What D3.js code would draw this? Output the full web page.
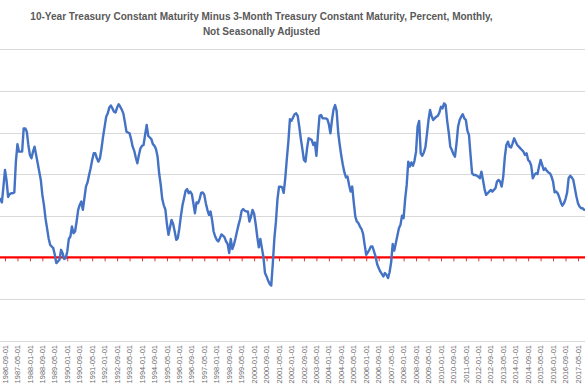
<!DOCTYPE html>
<html><head><meta charset="utf-8">
<script src="https://cdn.jsdelivr.net/npm/d3@7"></script>
<style>html,body{margin:0;padding:0;background:#fff;overflow:hidden}</style>
</head><body>
<svg id="c" width="585" height="390"></svg>
<script>
// ---- data ----
const titleLines = [
  "10-Year Treasury Constant Maturity Minus 3-Month Treasury Constant Maturity, Percent, Monthly,",
  "Not Seasonally Adjusted"
];
const firstYear = 1986;
const spread = [
  1.90,1.70,1.30,1.20,1.40,1.40,1.32,1.70,2.10,1.85,1.45,1.52, // 1986
  1.54,1.54,1.56,2.30,2.72,2.54,2.54,2.54,3.10,3.10,3.02,2.70, // 1987
  2.46,2.38,2.54,2.66,2.46,2.26,2.06,1.86,1.50,1.26,0.94,0.70, // 1988
  0.46,0.30,0.26,0.22,0.06,-0.14,-0.10,-0.06,0.18,0.10,-0.04,-0.02, // 1989
  0.14,0.44,0.50,0.74,0.58,0.62,0.86,1.14,1.26,1.34,1.14,1.42, // 1990
  1.70,1.80,1.98,2.14,2.34,2.50,2.50,2.38,2.30,2.38,2.62,2.90, // 1991
  3.14,3.38,3.46,3.60,3.65,3.58,3.50,3.48,3.60,3.68,3.62,3.55, // 1992
  3.46,3.25,3.02,3.00,2.98,2.84,2.66,2.56,2.40,2.26,2.46,2.62, // 1993
  2.68,2.70,2.95,3.18,2.92,2.88,2.84,2.72,2.68,2.60,2.42,2.02, // 1994
  1.75,1.40,1.25,1.15,0.80,0.54,0.72,0.90,0.80,0.62,0.42,0.46, // 1995
  0.70,1.00,1.25,1.42,1.60,1.64,1.54,1.58,1.52,1.30,1.06,1.32, // 1996
  1.30,1.40,1.55,1.56,1.50,1.30,1.14,1.02,1.10,0.90,0.62,0.50, // 1997
  0.42,0.38,0.46,0.55,0.52,0.48,0.38,0.32,0.10,0.44,0.20,0.30, // 1998
  0.45,0.62,0.78,0.92,1.12,1.16,1.12,1.10,1.10,0.86,0.98,1.14, // 1999
  1.05,0.80,0.50,0.24,0.44,0.22,0.00,-0.38,-0.46,-0.56,-0.64,-0.68, // 2000
  -0.15,0.45,0.85,1.40,1.70,1.70,1.68,1.55,1.90,2.36,2.78,3.32, // 2001
  3.28,3.36,3.44,3.46,3.40,3.14,2.85,2.60,2.34,2.30,2.62,2.86, // 2002
  2.84,2.82,2.70,2.76,2.44,2.95,3.40,3.42,3.34,3.34,3.34,3.32, // 2003
  3.20,2.98,3.30,3.55,3.66,3.52,3.00,2.70,2.44,2.22,2.04,1.92, // 2004
  1.94,1.74,1.58,1.70,1.32,0.98,0.86,0.82,0.74,0.68,0.56,0.30, // 2005
  0.06,0.12,0.18,0.26,0.26,0.14,0.02,-0.16,-0.26,-0.34,-0.40,-0.46, // 2006
  -0.38,-0.42,-0.50,-0.36,-0.12,0.32,0.16,0.34,0.52,0.70,0.78,1.00, // 2007
  0.94,1.40,1.74,2.30,2.18,2.28,2.20,2.32,2.54,3.14,3.28,2.50, // 2008
  2.44,2.52,2.64,2.96,3.30,3.54,3.40,3.30,3.34,3.38,3.40,3.48, // 2009
  3.62,3.58,3.70,3.66,3.28,3.00,2.66,2.58,2.48,2.42,2.74,3.14, // 2010
  3.30,3.38,3.44,3.34,3.30,3.04,2.94,2.46,2.02,1.98,1.98,1.96, // 2011
  1.94,1.90,2.06,1.86,1.64,1.50,1.54,1.58,1.62,1.58,1.62,1.66, // 2012
  1.82,1.86,1.82,1.70,1.94,2.40,2.70,2.78,2.66,2.64,2.74,2.86, // 2013
  2.78,2.70,2.66,2.62,2.58,2.54,2.46,2.50,2.34,2.30,2.20,1.90, // 2014
  1.98,2.02,2.00,2.18,2.34,2.22,2.10,2.14,2.08,2.04,2.02,1.94, // 2015
  1.82,1.56,1.58,1.54,1.44,1.32,1.24,1.30,1.40,1.55,1.90,1.96, // 2016
  1.92,1.86,1.66,1.46,1.30,1.22,1.18,1.18,1.14,1.14            // 2017
];
const months = spread.map((_, k) => {
  const yr = firstYear + Math.floor(k / 12), mo = (k % 12) + 1;
  return yr + "-" + String(mo).padStart(2, "0") + "-01";
});
const zeroSeries = months.map(() => 0);
const yTicks = [-2, -1, 0, 1, 2, 3, 4, 5];
const labelStep = 8;

// ---- layout ----
const W = 585, H = 390;
const svg = d3.select("#c");
const x = d3.scalePoint().domain(months).range([-7.46, -7.46 + 1.557 * (months.length - 1)]);
const y = d3.scaleLinear().domain([-2, 5]).range([340.5, 49.3]);

// gridlines
svg.append("g").selectAll("line").data(yTicks).join("line")
  .attr("x1", 0).attr("x2", W)
  .attr("y1", d => Math.round(y(d)) + 0.5).attr("y2", d => Math.round(y(d)) + 0.5)
  .attr("stroke", "#d9d9d9").attr("stroke-width", 1);

const tickCats = months.filter((m, i) => i % labelStep === 0 && x(m) >= 0 && x(m) <= W);

// category axis crossing at zero (tick marks only)
const axis = d3.axisBottom(x).tickValues(tickCats).tickSize(4).tickFormat("");
const ag = svg.append("g").attr("transform", `translate(0,${y(0)})`).call(axis);
ag.select(".domain").remove();
ag.selectAll(".tick line").attr("stroke", "#d23a3a").attr("stroke-width", 1);

// labels at bottom
const lab = svg.append("g").selectAll("text").data(tickCats).join("text")
  .attr("transform", d => `translate(${x(d)},345) rotate(-90)`)
  .attr("text-anchor", "end")
  .attr("dy", "0.35em")
  .attr("fill", "#6b6b6b")
  .style("font-family", "'Liberation Sans Narrow','Arial Narrow','Liberation Sans',sans-serif")
  .style("font-size", "8px")
  .text(d => d);
// fit label size to measured length
{
  const n = lab.node();
  const len = n.getComputedTextLength();
  if (len > 0) lab.style("font-size", (8 * 38.5 / len) + "px");
}

// lines
const line = d3.line().x((d, i) => x(months[i])).y(d => y(d));
svg.append("path").datum(zeroSeries).attr("d", line)
  .attr("fill", "none").attr("stroke", "#ff0000").attr("stroke-width", 2.25);
svg.append("path").datum(spread).attr("d", line)
  .attr("fill", "none").attr("stroke", "#4472c4").attr("stroke-width", 2.4)
  .attr("stroke-linejoin", "round").attr("stroke-linecap", "round");

// title
const tcx = 261.5;
const tg = svg.append("g");
const t1 = tg.append("text").attr("x", tcx).attr("y", 19.5).text(titleLines[0]);
const t2 = tg.append("text").attr("x", tcx).attr("y", 35).text(titleLines[1]);
tg.selectAll("text").attr("text-anchor", "middle").attr("fill", "#595959")
  .style("font-family", "'Liberation Sans Narrow','Arial Narrow','Liberation Sans',sans-serif")
  .style("font-weight", "bold").style("font-size", "11px");
{
  const len = t1.node().getComputedTextLength();
  if (len > 0) tg.selectAll("text").style("font-size", (11 * 463 / len) + "px");
}
</script>
</body></html>
